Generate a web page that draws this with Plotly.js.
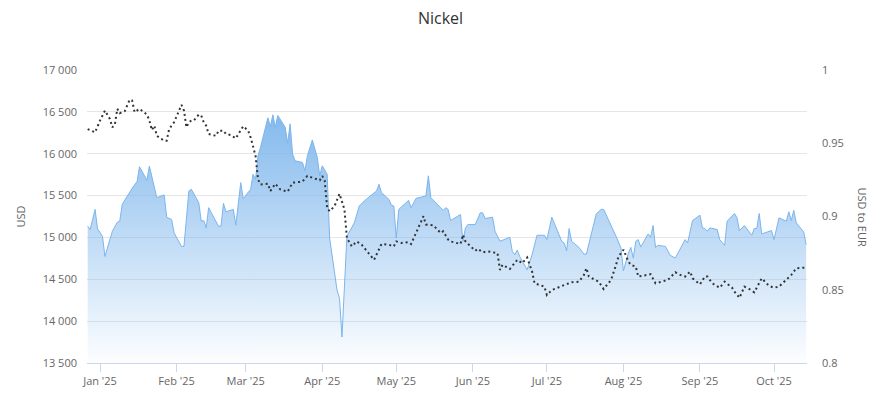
<!DOCTYPE html>
<html>
<head>
<meta charset="utf-8">
<script src="https://cdn.plot.ly/plotly-3.0.1.min.js"></script>
<style>html,body{margin:0;padding:0;background:#fff;}#chart{width:881px;height:398px;}</style>
</head>
<body>
<div id="chart"></div>
<script>
const nickelDates = ["2024-12-27","2024-12-28","2024-12-30","2024-12-31","2025-01-02","2025-01-03","2025-01-06","2025-01-08","2025-01-09","2025-01-10","2025-01-14","2025-01-16","2025-01-17","2025-01-20","2025-01-21","2025-01-23","2025-01-24","2025-01-27","2025-01-28","2025-01-30","2025-01-31","2025-02-03","2025-02-04","2025-02-06","2025-02-07","2025-02-10","2025-02-11","2025-02-12","2025-02-13","2025-02-14","2025-02-18","2025-02-19","2025-02-20","2025-02-21","2025-02-24","2025-02-25","2025-02-27","2025-02-28","2025-03-03","2025-03-04","2025-03-05","2025-03-06","2025-03-07","2025-03-10","2025-03-11","2025-03-12","2025-03-13","2025-03-14","2025-03-17","2025-03-18","2025-03-19","2025-03-20","2025-03-21","2025-03-24","2025-03-25","2025-03-26","2025-03-28","2025-03-30","2025-03-31","2025-04-01","2025-04-02","2025-04-03","2025-04-04","2025-04-07","2025-04-08","2025-04-09","2025-04-11","2025-04-14","2025-04-16","2025-04-18","2025-04-23","2025-04-24","2025-04-25","2025-04-28","2025-04-29","2025-04-30","2025-05-01","2025-05-02","2025-05-06","2025-05-07","2025-05-09","2025-05-12","2025-05-13","2025-05-14","2025-05-15","2025-05-19","2025-05-20","2025-05-21","2025-05-22","2025-05-23","2025-05-27","2025-05-28","2025-05-29","2025-05-30","2025-06-02","2025-06-04","2025-06-05","2025-06-06","2025-06-09","2025-06-10","2025-06-11","2025-06-12","2025-06-16","2025-06-17","2025-06-18","2025-06-19","2025-06-20","2025-06-23","2025-06-25","2025-06-27","2025-06-30","2025-07-01","2025-07-03","2025-07-05","2025-07-07","2025-07-08","2025-07-09","2025-07-10","2025-07-11","2025-07-14","2025-07-16","2025-07-17","2025-07-21","2025-07-23","2025-07-24","2025-07-29","2025-07-31","2025-08-01","2025-08-03","2025-08-04","2025-08-05","2025-08-06","2025-08-07","2025-08-08","2025-08-11","2025-08-12","2025-08-13","2025-08-14","2025-08-15","2025-08-18","2025-08-20","2025-08-22","2025-08-25","2025-08-26","2025-08-27","2025-08-29","2025-09-01","2025-09-02","2025-09-03","2025-09-04","2025-09-05","2025-09-08","2025-09-09","2025-09-11","2025-09-12","2025-09-15","2025-09-16","2025-09-17","2025-09-19","2025-09-22","2025-09-23","2025-09-24","2025-09-25","2025-09-26","2025-09-30","2025-10-01","2025-10-03","2025-10-06","2025-10-07","2025-10-08","2025-10-09","2025-10-10","2025-10-13","2025-10-14"];
const nickelUSD = [15134,15094,15335,15102,15014,14773,15074,15182,15194,15395,15587,15667,15844,15683,15852,15575,15475,15507,15242,15214,15054,14893,14893,15555,15575,15415,15194,15202,15114,15355,15134,15134,15407,15307,15335,15146,15655,15463,15575,15756,15695,15976,16076,16429,16325,16465,16317,16457,16317,16125,16357,15996,15916,15896,15796,15976,16165,15956,15736,15856,15800,15756,14994,14372,14272,13811,15014,15174,15375,15435,15555,15635,15535,15455,15387,15375,14994,15335,15443,15355,15467,15495,15495,15736,15475,15355,15323,15355,15335,15202,15274,14954,15114,15154,15154,15294,15294,15226,15242,15074,15014,14954,15002,14833,14793,14849,14773,14613,14793,15026,15026,14974,15242,15094,14954,14934,14840,15106,14954,14881,14801,14801,15282,15335,15335,15014,14873,14601,14813,14881,14753,14954,14974,14885,15042,15002,15142,14881,14905,14893,14785,14753,14922,14974,14934,15202,15266,15114,15106,15074,15114,15094,14974,14905,15194,15286,15234,15082,15142,15026,15106,15106,15286,15042,15082,14974,15234,15194,15307,15202,15323,15174,15066,14914];

const fxDates = ["2024-12-27","2024-12-30","2025-01-01","2025-01-03","2025-01-05","2025-01-06","2025-01-07","2025-01-08","2025-01-09","2025-01-11","2025-01-13","2025-01-14","2025-01-15","2025-01-17","2025-01-20","2025-01-21","2025-01-22","2025-01-23","2025-01-24","2025-01-27","2025-01-28","2025-01-29","2025-01-30","2025-01-31","2025-02-03","2025-02-04","2025-02-05","2025-02-06","2025-02-07","2025-02-08","2025-02-10","2025-02-11","2025-02-12","2025-02-13","2025-02-14","2025-02-17","2025-02-18","2025-02-20","2025-02-21","2025-02-23","2025-02-25","2025-02-26","2025-02-28","2025-03-02","2025-03-03","2025-03-05","2025-03-06","2025-03-07","2025-03-10","2025-03-11","2025-03-13","2025-03-15","2025-03-18","2025-03-20","2025-03-24","2025-03-26","2025-03-29","2025-03-31","2025-04-01","2025-04-02","2025-04-03","2025-04-04","2025-04-06","2025-04-08","2025-04-10","2025-04-11","2025-04-13","2025-04-15","2025-04-17","2025-04-22","2025-04-25","2025-04-28","2025-04-30","2025-05-01","2025-05-03","2025-05-06","2025-05-07","2025-05-10","2025-05-12","2025-05-13","2025-05-16","2025-05-19","2025-05-20","2025-05-22","2025-05-23","2025-05-27","2025-05-28","2025-05-29","2025-06-02","2025-06-03","2025-06-05","2025-06-07","2025-06-11","2025-06-12","2025-06-13","2025-06-16","2025-06-19","2025-06-21","2025-06-23","2025-06-25","2025-06-26","2025-06-30","2025-07-01","2025-07-03","2025-07-06","2025-07-08","2025-07-11","2025-07-14","2025-07-16","2025-07-17","2025-07-18","2025-07-22","2025-07-24","2025-07-27","2025-07-29","2025-07-30","2025-08-01","2025-08-03","2025-08-04","2025-08-06","2025-08-07","2025-08-12","2025-08-14","2025-08-17","2025-08-19","2025-08-22","2025-08-24","2025-08-26","2025-08-28","2025-08-29","2025-09-01","2025-09-03","2025-09-04","2025-09-06","2025-09-09","2025-09-11","2025-09-14","2025-09-15","2025-09-17","2025-09-19","2025-09-21","2025-09-23","2025-09-26","2025-09-29","2025-10-01","2025-10-03","2025-10-05","2025-10-08","2025-10-10","2025-10-12","2025-10-14"];
const usdToEur = [0.9597,0.9574,0.9655,0.9723,0.9666,0.9609,0.9627,0.9735,0.9705,0.9719,0.9797,0.9792,0.9712,0.9735,0.9696,0.9655,0.9590,0.9620,0.9551,0.9517,0.9517,0.9597,0.9620,0.9643,0.9762,0.9723,0.9609,0.9643,0.9655,0.9655,0.9696,0.9689,0.9643,0.9620,0.9563,0.9551,0.9586,0.9586,0.9563,0.9556,0.9533,0.9563,0.9616,0.9586,0.9540,0.9414,0.9254,0.9219,0.9224,0.9174,0.9224,0.9185,0.9169,0.9231,0.9238,0.9277,0.9261,0.9247,0.9277,0.9247,0.9059,0.9036,0.9071,0.9155,0.9048,0.8853,0.8796,0.8830,0.8807,0.8704,0.8812,0.8807,0.8796,0.8830,0.8819,0.8825,0.8812,0.8922,0.9002,0.8945,0.8940,0.8887,0.8899,0.8842,0.8830,0.8812,0.8876,0.8830,0.8766,0.8780,0.8755,0.8762,0.8750,0.8635,0.8670,0.8642,0.8704,0.8681,0.8720,0.8624,0.8544,0.8521,0.8464,0.8498,0.8521,0.8532,0.8551,0.8555,0.8601,0.8647,0.8590,0.8555,0.8505,0.8567,0.8670,0.8727,0.8773,0.8693,0.8670,0.8658,0.8590,0.8606,0.8544,0.8560,0.8567,0.8619,0.8601,0.8590,0.8624,0.8578,0.8537,0.8590,0.8590,0.8544,0.8514,0.8555,0.8514,0.8487,0.8445,0.8521,0.8505,0.8482,0.8578,0.8526,0.8514,0.8521,0.8555,0.8601,0.8647,0.8651,0.8651];

const usdTicks = [13500,14000,14500,15000,15500,16000,16500,17000];
const usdTickText = ["13 500","14 000","14 500","15 000","15 500","16 000","16 500","17 000"];
const eurTicks = [0.8,0.85,0.9,0.95,1];
const eurTickText = ["0.8","0.85","0.9","0.95","1"];

const font = "'Open Sans', 'DejaVu Sans', sans-serif";

const traces = [
  {
    x: nickelDates, y: nickelUSD, type: 'scatter', mode: 'lines', name: 'Nickel',
    line: {color: 'rgb(124,181,236)', width: 1},
    fill: 'tozeroy',
    fillgradient: {type: 'vertical', start: 13500, stop: 16500,
      colorscale: [[0, 'rgba(124,181,236,0.02)'], [1, 'rgba(124,181,236,0.95)']]},
    hoverinfo: 'x+y'
  },
  {
    x: fxDates, y: usdToEur, type: 'scatter', mode: 'lines', name: 'USD to EUR',
    yaxis: 'y2',
    line: {color: '#333333', width: 2, dash: '2px,3px'},
    hoverinfo: 'x+y'
  }
];

const layout = {
  width: 881, height: 398,
  margin: {l: 87, r: 74, t: 70, b: 35},
  paper_bgcolor: '#ffffff', plot_bgcolor: '#ffffff',
  showlegend: false,
  font: {family: font, color: '#666666', size: 11},
  title: {text: 'Nickel', x: 0.5, xanchor: 'center', y: 0.955, yanchor: 'middle',
    font: {family: font, size: 16, color: '#333333'}},
  xaxis: {
    type: 'date',
    range: ['2024-12-26 17:30', '2025-10-14 08:30'],
    tick0: '2025-01-01', dtick: 'M1', tickformat: "%b '%y",
    ticks: 'outside', ticklen: 8, tickcolor: '#ccd6eb', tickwidth: 1,
    showline: true, linecolor: '#ccd6eb', linewidth: 1,
    showgrid: false, zeroline: false,
    tickfont: {family: font, size: 11, color: '#666666'}
  },
  yaxis: {
    range: [13500, 17000],
    tickvals: usdTicks, ticktext: usdTickText,
    showgrid: true, gridcolor: '#e6e6e6', gridwidth: 1,
    zeroline: false, showline: false, ticks: '',
    ticklabelstandoff: 9,
    tickfont: {family: font, size: 11, color: '#666666'},
    title: {text: 'USD', standoff: 14, font: {family: font, size: 11, color: '#666666'}}
  },
  yaxis2: {
    overlaying: 'y', side: 'right',
    range: [0.8, 1],
    tickvals: eurTicks, ticktext: eurTickText,
    showgrid: false, zeroline: false, showline: false, ticks: '',
    ticklabelstandoff: 14,
    tickfont: {family: font, size: 11, color: '#666666'}
  },
  annotations: [{
    text: 'USD to EUR', xref: 'paper', yref: 'paper', x: 1, xshift: 55, y: 0.5,
    xanchor: 'center', yanchor: 'middle', textangle: 90, showarrow: false,
    font: {family: font, size: 11, color: '#666666'}
  }]
};

Plotly.newPlot('chart', traces, layout, {displayModeBar: false, staticPlot: true});
</script>
</body>
</html>
